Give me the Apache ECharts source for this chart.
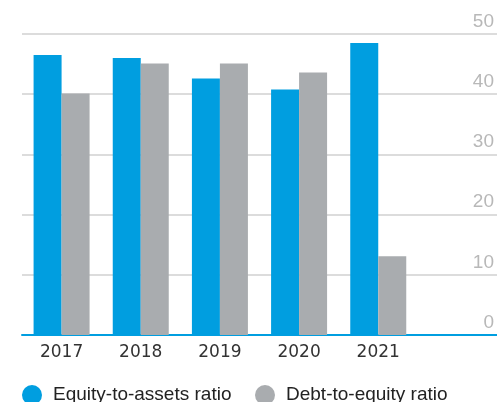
<!DOCTYPE html>
<html><head><meta charset="utf-8">
<script src="https://cdn.jsdelivr.net/npm/echarts@6/dist/echarts.min.js"></script>
<style>html,body{margin:0;padding:0;background:#fff}#c{width:497px;height:402px}</style>
</head><body><div id="c"></div>
<script>
const categories = ['2017', '2018', '2019', '2020', '2021', ''];
const equityToAssets = [46.5, 46.0, 42.6, 40.8, 48.5, null];
const debtToEquity = [40.1, 45.1, 45.1, 43.6, 13.1, null];
const yTicks = [0, 10, 20, 30, 40, 50];

const chart = echarts.init(document.getElementById('c'), null, {renderer: 'canvas'});
const font = 'Liberation Sans, Arial, sans-serif';
chart.setOption({
  animation: false,
  backgroundColor: '#fff',
  grid: {left: 22, right: 0, top: 34, bottom: 67, containLabel: false},
  legend: [
    {data: ['Equity-to-assets ratio'], left: 17, top: 380, icon: 'circle', itemWidth: 20, itemHeight: 20,
     textStyle: {fontFamily: font, fontSize: 19, color: '#222', padding: [0, 0, 0, 6]}},
    {data: ['Debt-to-equity ratio'], left: 250, top: 380, icon: 'circle', itemWidth: 20, itemHeight: 20,
     textStyle: {fontFamily: font, fontSize: 19, color: '#222', padding: [0, 0, 0, 6]}}
  ],
  xAxis: {
    type: 'category', data: categories,
    axisTick: {show: false},
    axisLine: {lineStyle: {color: '#009ee0', width: 2}},
    axisLabel: {fontFamily: 'DejaVu Sans, sans-serif', fontSize: 17, color: '#333', margin: 9}
  },
  yAxis: {
    type: 'value', position: 'right', min: yTicks[0], max: yTicks[yTicks.length - 1], interval: 10,
    axisLine: {show: false}, axisTick: {show: false},
    splitLine: {lineStyle: {color: '#d0d0d0', width: 1.5}},
    axisLabel: {inside: true, margin: 3, fontFamily: font, fontSize: 19, color: '#b8b8b8',
      verticalAlign: 'bottom', padding: [0, 0, 3, 0]}
  },
  series: [
    {name: 'Equity-to-assets ratio', type: 'bar', data: equityToAssets, barWidth: 28, barGap: '0%',
     itemStyle: {color: '#009ee0'}},
    {name: 'Debt-to-equity ratio', type: 'bar', data: debtToEquity, barWidth: 28, barGap: '0%',
     itemStyle: {color: '#a9acaf'}}
  ]
});
</script></body></html>
